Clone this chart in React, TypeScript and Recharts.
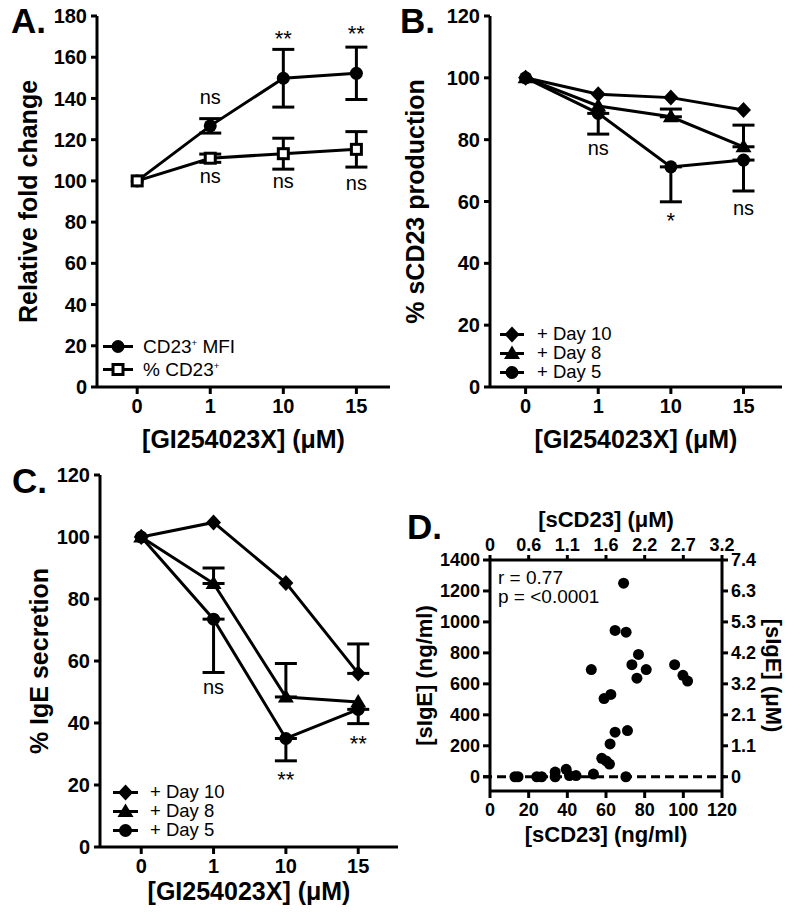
import React from 'react';
import {
  LineChart, Line, XAxis, YAxis, ErrorBar, ReferenceDot, Legend,
  ScatterChart, Scatter, ReferenceLine,
} from 'recharts';

const FONT = '"Liberation Sans", Arial, Helvetica, sans-serif';

// x categories (GI254023X, µM) shared by A, B and C
const doses = ['0', '1', '10', '15'];

// A. CD23 surface expression (relative fold change, mean ± SEM)
const cd23Mfi = [100, 126.7, 149.8, 152.2];
const cd23MfiErr = [0, 3.5, 14, 12.7];
const cd23Pct = [100, 111, 113.2, 115.3];
const cd23PctErr = [0, 2, 7.5, 8.6];

// B. % sCD23 production (one-sided error bars)
const sDay10 = [100, 94.7, 93.6, 89.6];
const sDay8 = [100, 90.9, 87.4, 77.7];
const sDay8Up = [0, 0, 2.5, 7];
const sDay5 = [100, 88.5, 71.2, 73.4];
const sDay5Down = [0, 6.7, 11.3, 10];

// C. % IgE secretion
const eDay10 = [100, 104.7, 85.2, 56];
const eDay10Up = [0, 0, 0, 9.5];
const eDay8 = [100, 85, 48.4, 46.8];
const eDay8Up = [0, 5, 10.8, 0];
const eDay5 = [100, 73.5, 35, 44.4];
const eDay5Down = [0, 17.2, 7.2, 4.6];

// D. sCD23 vs sIgE (ng/ml)
const sCD23 = [12.9, 14.5, 24.2, 26.7, 33.7, 33.7, 39.4, 41.1, 44.5, 53.5, 52.4, 59.0, 62.5, 64.7, 69.1,
  70.4, 76.8, 73.4, 80.8, 76.0, 95.5, 99.8, 102.2, 57.8, 60.1, 61.8, 62.1, 64.7, 71.1, 70.3];
const sIgE = [0, 0, 0, 0, 30, 0, 48, 8, 8, 17, 692, 505, 532, 945, 1250,
  934, 790, 724, 692, 637, 724, 655, 618, 119, 102, 82, 212, 288, 298, 0];
const dTicksX = [0, 20, 40, 60, 80, 100, 120];
const dTopLabels = ['0', '0.6', '1.1', '1.6', '2.2', '2.7', '3.2'];
const dTicksY = [0, 200, 400, 600, 800, 1000, 1200, 1400];
const dRightLabels = ['0', '1.1', '2.1', '3.2', '4.2', '5.3', '6.3', '7.4'];

// significance labels (placed in data space)
const notesA = [
  { x: 1, y: 140.6, text: 'ns' }, { x: 2, y: 169.3, text: '**' }, { x: 3, y: 171.7, text: '**' },
  { x: 1, y: 102.2, text: 'ns' }, { x: 2, y: 99.8, text: 'ns' }, { x: 3, y: 99, text: 'ns' },
];
const notesB = [
  { x: 1, y: 77.3, text: 'ns' }, { x: 2, y: 54, text: '*' }, { x: 3, y: 57.9, text: 'ns' },
];
const notesC = [
  { x: 1, y: 51.6, text: 'ns' }, { x: 2, y: 21.9, text: '**' }, { x: 3, y: 33.6, text: '**' },
];

const up = (v: number) => (v ? [0, v] : null);
const down = (v: number) => (v ? [v, 0] : null);

const rowsA = doses.map((d, i) => ({
  idx: i, mfi: cd23Mfi[i], mfiErr: cd23MfiErr[i], pct: cd23Pct[i], pctErr: cd23PctErr[i],
}));
const rowsB = doses.map((d, i) => ({
  idx: i, d10: sDay10[i], d8: sDay8[i], d8Err: up(sDay8Up[i]), d5: sDay5[i], d5Err: down(sDay5Down[i]),
}));
const rowsC = doses.map((d, i) => ({
  idx: i, d10: eDay10[i], d10Err: up(eDay10Up[i]), d8: eDay8[i], d8Err: up(eDay8Up[i]),
  d5: eDay5[i], d5Err: down(eDay5Down[i]),
}));
const dPoints = sCD23.map((x, i) => ({ x, y: sIgE[i] }));

const circle = (cx: number, cy: number) => <circle cx={cx} cy={cy} r={6.5} fill="#000" />;
const square = (cx: number, cy: number) => (
  <rect x={cx - 5} y={cy - 5} width={10} height={10} fill="#fff" stroke="#000" strokeWidth={3} />
);
const diamond = (cx: number, cy: number) => (
  <polygon points={`${cx},${cy - 8} ${cx + 7.5},${cy} ${cx},${cy + 8} ${cx - 7.5},${cy}`} fill="#000" />
);
const triangle = (cx: number, cy: number) => (
  <polygon points={`${cx},${cy - 8} ${cx + 8},${cy + 5.5} ${cx - 8},${cy + 5.5}`} fill="#000" />
);

const axisLine = { stroke: '#000', strokeWidth: 3 };
const tickFont = (size: number) => ({ fill: '#000', fontSize: size, fontWeight: 700, fontFamily: FONT });
const titleStyle = (size: number) => ({ textAnchor: 'middle' as const, fontSize: size, fontWeight: 700, fill: '#000', fontFamily: FONT });

const dayLegend = [
  { key: 'd10', label: '+ Day 10', shape: diamond },
  { key: 'd8', label: '+ Day 8', shape: triangle },
  { key: 'd5', label: '+ Day 5', shape: circle },
];
const cd23Legend = [
  { key: 'mfi', label: <>CD23<sup style={{ fontSize: '0.5em' }}>+</sup> MFI</>, shape: circle },
  { key: 'pct', label: <>% CD23<sup style={{ fontSize: '0.5em' }}>+</sup></>, shape: square },
];

const legendBox = (items: any[], rowH: number, lineW: number, gap: number, size: number) => () => (
  <div style={{ fontFamily: FONT, fontSize: size, color: '#000' }}>
    {items.map((s) => (
      <div key={s.key} style={{ display: 'flex', alignItems: 'center', height: rowH }}>
        <svg width={lineW} height={rowH} style={{ overflow: 'visible' }}>
          <line x1={0} x2={lineW} y1={rowH / 2} y2={rowH / 2} stroke="#000" strokeWidth={3} />
          {s.shape(lineW / 2, rowH / 2)}
        </svg>
        <span style={{ marginLeft: gap, lineHeight: 1, whiteSpace: 'nowrap' }}>{s.label}</span>
      </div>
    ))}
  </div>
);

type Series = { key: string; err?: string; shape: (cx: number, cy: number) => React.ReactNode };

const DosePanel = (p: {
  rows: any[]; series: Series[]; xDomain: number[]; yMax: number; top: number; right: number;
  yWidth: number; xHeight: number; yLabel: string; yLabelOffset: number; xLabelOffset: number;
  notes: { x: number; y: number; text: string }[]; legend: () => React.ReactNode; legendPos: { left: number; top: number };
}) => {
  const yTicks = [];
  for (let v = 0; v <= p.yMax; v += 20) yTicks.push(v);
  return (
    <LineChart width={400} height={460} data={p.rows} margin={{ top: p.top, right: p.right, left: 0, bottom: 0 }}>
      <XAxis
        dataKey="idx" type="number" domain={p.xDomain} allowDataOverflow ticks={[0, 1, 2, 3]}
        tickFormatter={(v: number) => doses[v]} axisLine={axisLine} tickLine={axisLine} tickSize={7} tickMargin={5}
        tick={tickFont(20)} height={p.xHeight}
        label={{ value: '[GI254023X] (μM)', position: 'insideBottom', offset: p.xLabelOffset, style: titleStyle(25) }}
      />
      <YAxis
        type="number" domain={[0, p.yMax]} ticks={yTicks} interval={0} axisLine={axisLine} tickLine={axisLine}
        tickSize={6} tickMargin={4} tick={tickFont(20)} width={p.yWidth}
        label={{ value: p.yLabel, angle: -90, position: 'insideLeft', offset: p.yLabelOffset, style: titleStyle(25) }}
      />
      {p.series.map((s) => (
        <Line
          key={s.key} dataKey={s.key} stroke="#000" strokeWidth={3} isAnimationActive={false} activeDot={false}
          dot={(d: any) => <g key={`${s.key}-${d.index}`}>{s.shape(d.cx, d.cy)}</g>}
        >
          {s.err && <ErrorBar dataKey={s.err} width={11} strokeWidth={3} stroke="#000" direction="y" />}
        </Line>
      ))}
      {p.notes.map((n, k) => (
        <ReferenceDot
          key={k} x={n.x} y={n.y} r={0} fill="none" stroke="none" ifOverflow="visible"
          label={{ value: n.text, position: 'center', fill: '#000', fontSize: n.text === 'ns' ? 20 : 22, fontFamily: FONT }}
        />
      ))}
      <Legend
        layout="horizontal" verticalAlign="middle" align="center" content={p.legend}
        wrapperStyle={{ left: p.legendPos.left, top: p.legendPos.top, width: 'auto' }}
      />
    </LineChart>
  );
};

const ScatterPanel = () => (
  <ScatterChart width={400} height={460} margin={{ top: 0, right: 0, left: 0, bottom: 0 }}>
    <XAxis
      xAxisId="bottom" dataKey="x" type="number" domain={[0, 120]} allowDataOverflow ticks={dTicksX} interval={0}
      axisLine={axisLine} tickLine={axisLine} tickSize={7} tickMargin={5} tick={tickFont(18)} height={129}
      label={{ value: '[sCD23] (ng/ml)', position: 'insideBottom', offset: 78, style: titleStyle(22) }}
    />
    <XAxis
      xAxisId="top" orientation="top" dataKey="x" type="number" domain={[0, 120]} allowDataOverflow ticks={dTicksX} interval={0}
      tickFormatter={(v: number) => dTopLabels[dTicksX.indexOf(v)]}
      axisLine={axisLine} tickLine={axisLine} tickSize={5} tickMargin={4} tick={tickFont(18)} height={100}
      label={{ value: '[sCD23] (μM)', position: 'insideTop', offset: 51, style: titleStyle(22) }}
    />
    <YAxis
      yAxisId="left" dataKey="y" type="number" domain={[-92, 1400]} allowDataOverflow ticks={dTicksY} interval={0}
      axisLine={axisLine} tickLine={axisLine} tickSize={7} tickMargin={3} tick={tickFont(18)} width={90}
      label={{ value: '[sIgE] (ng/ml)', angle: -90, position: 'insideLeft', offset: 24, style: titleStyle(22) }}
    />
    <YAxis
      yAxisId="right" orientation="right" dataKey="y" type="number" domain={[-92, 1400]} allowDataOverflow ticks={dTicksY} interval={0}
      tickFormatter={(v: number) => dRightLabels[dTicksY.indexOf(v)]}
      axisLine={axisLine} tickLine={axisLine} tickSize={6} tickMargin={3} tick={tickFont(18)} width={78}
      label={{ value: '[sIgE] (μM)', angle: 90, position: 'insideRight', offset: 26, style: titleStyle(22) }}
    />
    <ReferenceLine
      xAxisId="bottom" yAxisId="left" segment={[{ x: -3.6, y: 0 }, { x: 121.7, y: 0 }]} ifOverflow="visible"
      stroke="#000" strokeWidth={3} strokeDasharray="9 5"
    />
    {/* same points on the µM axes so the top/right axes get a scale; drawn invisibly */}
    <Scatter
      xAxisId="top" yAxisId="right" data={dPoints} isAnimationActive={false} legendType="none"
      shape={() => <g />}
    />
    <Scatter
      xAxisId="bottom" yAxisId="left" data={dPoints} isAnimationActive={false}
      shape={(d: any) => <circle cx={d.cx} cy={d.cy} r={5.5} fill="#000" />}
    />
  </ScatterChart>
);

const letter = { fontFamily: FONT, fontSize: 35, fontWeight: 700, fill: '#000' };
const stat = { fontFamily: FONT, fontSize: 19, fill: '#000' };

export default function App() {
  return (
    <div style={{ position: 'absolute', left: 0, top: 0, width: 800, height: 920, background: '#fff' }}>
      <div style={{ position: 'absolute', left: 0, top: 0 }}>
        <DosePanel
          rows={rowsA}
          series={[{ key: 'mfi', err: 'mfiErr', shape: circle }, { key: 'pct', err: 'pctErr', shape: square }]}
          xDomain={[-0.55, 3.46]} yMax={180} top={16} right={10} yWidth={97} xHeight={73}
          yLabel="Relative fold change" yLabelOffset={28} xLabelOffset={12} notes={notesA}
          legend={legendBox(cd23Legend, 23, 30, 10, 19)} legendPos={{ left: 103, top: 335 }}
        />
      </div>
      <div style={{ position: 'absolute', left: 400, top: 0 }}>
        <DosePanel
          rows={rowsB}
          series={[{ key: 'd10', shape: diamond }, { key: 'd8', err: 'd8Err', shape: triangle }, { key: 'd5', err: 'd5Err', shape: circle }]}
          xDomain={[-0.49, 3.53]} yMax={120} top={16} right={18} yWidth={90} xHeight={73}
          yLabel="% sCD23 production" yLabelOffset={15} xLabelOffset={12} notes={notesB}
          legend={legendBox(dayLegend, 19, 24, 13, 18.5)} legendPos={{ left: 100, top: 325 }}
        />
      </div>
      <div style={{ position: 'absolute', left: 0, top: 460 }}>
        <DosePanel
          rows={rowsC}
          series={[{ key: 'd10', err: 'd10Err', shape: diamond }, { key: 'd8', err: 'd8Err', shape: triangle }, { key: 'd5', err: 'd5Err', shape: circle }]}
          xDomain={[-0.57, 3.55]} yMax={120} top={15} right={2} yWidth={100} xHeight={73}
          yLabel="% IgE secretion" yLabelOffset={39} xLabelOffset={20} notes={notesC}
          legend={legendBox(dayLegend, 19, 25, 12, 18.5)} legendPos={{ left: 113, top: 323 }}
        />
      </div>
      <div style={{ position: 'absolute', left: 400, top: 460 }}>
        <ScatterPanel />
      </div>
      <svg width={800} height={920} style={{ position: 'absolute', left: 0, top: 0, pointerEvents: 'none' }}>
        <text x={11} y={33} style={letter}>A.</text>
        <text x={400} y={33} style={letter}>B.</text>
        <text x={12} y={493} style={letter}>C.</text>
        <text x={407} y={539} style={letter}>D.</text>
        <text x={498} y={583.5} style={stat}>r = 0.77</text>
        <text x={498} y={603} style={stat}>p = &lt;0.0001</text>
      </svg>
    </div>
  );
}
